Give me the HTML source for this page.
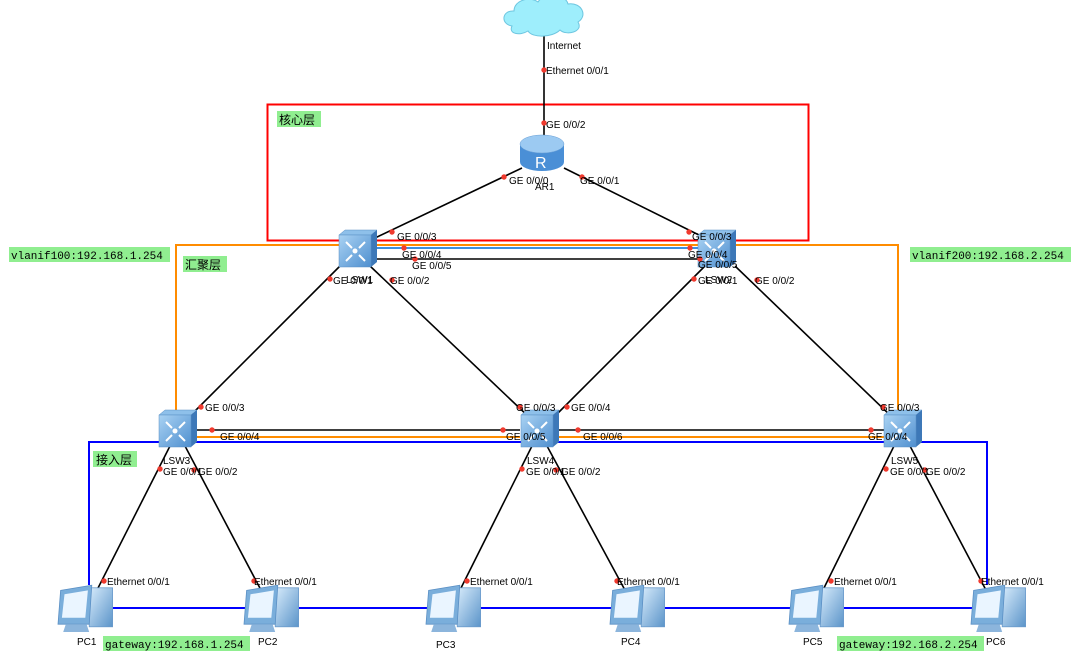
<!DOCTYPE html>
<html><head><meta charset="utf-8"><style>
body{margin:0;background:#fff;width:1092px;height:663px;overflow:hidden}
svg{display:block}
text{font-family:"Liberation Sans","Noto Sans CJK SC",sans-serif;font-size:10px;fill:#000}
.m{font-family:"Liberation Mono","Noto Sans CJK SC",monospace;font-size:11px}
</style></head><body>
<svg width="1092" height="663" viewBox="0 0 1092 663">
<defs>
<linearGradient id="sw" x1="0" y1="0" x2="1" y2="1"><stop offset="0" stop-color="#a9d2f3"/><stop offset="1" stop-color="#4f8fcf"/></linearGradient>
<linearGradient id="pc" x1="0" y1="0" x2="1" y2="1"><stop offset="0" stop-color="#d7ebfb"/><stop offset="1" stop-color="#5b94c9"/></linearGradient>
<g id="switch">
 <polygon points="-18,-13 -12,-18 20,-18 14,-13" fill="#8ec0ea" stroke="#5a8fc4" stroke-width="0.5"/>
 <polygon points="14,-13 20,-18 20,14 14,19" fill="#3d78b8"/>
 <rect x="-18" y="-13" width="32" height="32" fill="url(#sw)" stroke="#5a8fc4" stroke-width="0.5"/>
 <g stroke="#fff" stroke-width="2" fill="none"><path d="M-11,-6 l6,6 M8,-6 l-6,6 M-11,13 l6,-6 M8,13 l-6,-6"/></g>
 <circle cx="-2" cy="3" r="2.5" fill="#fff"/>
</g>
<g id="pcicon">
 <rect x="4" y="-14" width="18" height="30" fill="url(#pc)" stroke="#6a9acb" stroke-width="0.6"/>
 <polygon points="-18,-12 6,-16 4,14 -20,14" fill="#7aaedb" stroke="#5a8fc4" stroke-width="0.6"/>
 <polygon points="-15,-9 3,-12 1,9 -17,9" fill="#eaf5ff"/>
 <polygon points="-14,14 2,14 4,20 -16,20" fill="#8cb5dc"/>
</g>
</defs>

<rect x="267.5" y="104.5" width="541" height="136" fill="none" stroke="#f00" stroke-width="2"/>
<polyline points="176,415 176,245 898,245 898,412" fill="none" stroke="#ff8c00" stroke-width="2"/>
<polyline points="89,585 89,442 987,442 987,585" fill="none" stroke="#00f" stroke-width="2"/>

<g stroke="#000" stroke-width="1.6">
 <line x1="544" y1="33" x2="544" y2="138"/>
 <line x1="522" y1="168" x2="375" y2="238"/>
 <line x1="564" y1="168" x2="705" y2="238"/>
 <line x1="372" y1="259" x2="705" y2="259"/>
 <line x1="340" y1="266" x2="188" y2="418"/>
 <line x1="370" y1="266" x2="530" y2="418"/>
 <line x1="705" y1="266" x2="553" y2="418"/>
 <line x1="735" y1="266" x2="893" y2="418"/>
 <line x1="193" y1="430" x2="520" y2="430"/>
 <line x1="555" y1="430" x2="885" y2="430"/>
 <line x1="170" y1="446" x2="96" y2="592"/>
 <line x1="185" y1="446" x2="262" y2="592"/>
 <line x1="532" y1="446" x2="459" y2="592"/>
 <line x1="547" y1="446" x2="626" y2="592"/>
 <line x1="894" y1="446" x2="822" y2="592"/>
 <line x1="910" y1="446" x2="987" y2="592"/>
</g>
<line x1="372" y1="248" x2="705" y2="248" stroke="#3d8fe0" stroke-width="2"/>
<line x1="193" y1="437" x2="520" y2="437" stroke="#ff8c00" stroke-width="2"/>
<line x1="555" y1="437" x2="885" y2="437" stroke="#ff8c00" stroke-width="2"/>
<line x1="100" y1="608" x2="990" y2="608" stroke="#00f" stroke-width="2"/>

<g fill="#9eeefc" stroke="#6ec6e0" stroke-width="1">
 <path d="M512,26 C500,24 502,10 514,11 C514,0 530,-4 538,2 C544,-8 566,-6 568,4 C582,2 588,16 578,22 C584,32 566,36 560,30 C552,38 532,38 528,31 C520,36 508,34 512,26Z"/>
</g>
<text x="547" y="49">Internet</text>

<g>
 <path d="M520,144 v18 a22,9 0 0 0 44,0 v-18z" fill="#4a8fd6"/>
 <ellipse cx="542" cy="144" rx="22" ry="9" fill="#9ccaf2" stroke="#6aa0d6" stroke-width="0.5"/>
 <text x="535" y="168" style="font-size:16px;fill:#fff">R</text>
</g>
<text x="535" y="190">AR1</text>

<use href="#switch" x="357" y="248"/>
<use href="#switch" x="716" y="248"/>
<use href="#switch" x="177" y="428"/>
<use href="#switch" x="539" y="428"/>
<use href="#switch" x="902" y="428"/>
<text x="346" y="283">LSW1</text>
<text x="705" y="283">LSW2</text>
<text x="163" y="464">LSW3</text>
<text x="527" y="464">LSW4</text>
<text x="891" y="464">LSW5</text>

<use href="#pcicon" transform="translate(84,606) scale(1.3)"/>
<use href="#pcicon" transform="translate(270,606) scale(1.3)"/>
<use href="#pcicon" transform="translate(452,606) scale(1.3)"/>
<use href="#pcicon" transform="translate(636,606) scale(1.3)"/>
<use href="#pcicon" transform="translate(815,606) scale(1.3)"/>
<use href="#pcicon" transform="translate(997,606) scale(1.3)"/>
<text x="77" y="645">PC1</text>
<text x="258" y="645">PC2</text>
<text x="436" y="648">PC3</text>
<text x="621" y="645">PC4</text>
<text x="803" y="645">PC5</text>
<text x="986" y="645">PC6</text>

<g fill="#f03a2e">
 <circle cx="544" cy="70" r="2.7"/><circle cx="544" cy="123" r="2.7"/>
 <circle cx="504" cy="177" r="2.7"/><circle cx="582" cy="177" r="2.7"/>
 <circle cx="392" cy="232" r="2.7"/><circle cx="689" cy="232" r="2.7"/>
 <circle cx="404" cy="248" r="2.7"/><circle cx="690" cy="248" r="2.7"/>
 <circle cx="415" cy="259" r="2.7"/><circle cx="700" cy="259" r="2.7"/>
 <circle cx="330" cy="279" r="2.7"/><circle cx="392" cy="280" r="2.7"/>
 <circle cx="694" cy="279" r="2.7"/><circle cx="757" cy="280" r="2.7"/>
 <circle cx="201" cy="407" r="2.7"/><circle cx="520" cy="407" r="2.7"/>
 <circle cx="567" cy="407" r="2.7"/><circle cx="883" cy="407" r="2.7"/>
 <circle cx="212" cy="430" r="2.7"/><circle cx="503" cy="430" r="2.7"/>
 <circle cx="578" cy="430" r="2.7"/><circle cx="871" cy="430" r="2.7"/>
 <circle cx="160" cy="469" r="2.7"/><circle cx="194" cy="470" r="2.7"/>
 <circle cx="522" cy="469" r="2.7"/><circle cx="556" cy="470" r="2.7"/>
 <circle cx="886" cy="469" r="2.7"/><circle cx="925" cy="470" r="2.7"/>
 <circle cx="104" cy="581" r="2.7"/><circle cx="254" cy="581" r="2.7"/>
 <circle cx="467" cy="581" r="2.7"/><circle cx="617" cy="581" r="2.7"/>
 <circle cx="831" cy="581" r="2.7"/><circle cx="981" cy="581" r="2.7"/>
</g>

<g>
 <text x="546" y="74">Ethernet 0/0/1</text>
 <text x="546" y="128">GE 0/0/2</text>
 <text x="509" y="184">GE 0/0/0</text>
 <text x="580" y="184">GE 0/0/1</text>
 <text x="397" y="240">GE 0/0/3</text>
 <text x="692" y="240">GE 0/0/3</text>
 <text x="402" y="258">GE 0/0/4</text>
 <text x="688" y="258">GE 0/0/4</text>
 <text x="412" y="269">GE 0/0/5</text>
 <text x="698" y="268">GE 0/0/5</text>
 <text x="333" y="284">GE 0/0/1</text>
 <text x="390" y="284">GE 0/0/2</text>
 <text x="698" y="284">GE 0/0/1</text>
 <text x="755" y="284">GE 0/0/2</text>
 <text x="205" y="411">GE 0/0/3</text>
 <text x="516" y="411">GE 0/0/3</text>
 <text x="571" y="411">GE 0/0/4</text>
 <text x="880" y="411">GE 0/0/3</text>
 <text x="220" y="440">GE 0/0/4</text>
 <text x="506" y="440">GE 0/0/5</text>
 <text x="583" y="440">GE 0/0/6</text>
 <text x="868" y="440">GE 0/0/4</text>
 <text x="163" y="475">GE 0/0/1</text>
 <text x="198" y="475">GE 0/0/2</text>
 <text x="526" y="475">GE 0/0/1</text>
 <text x="561" y="475">GE 0/0/2</text>
 <text x="890" y="475">GE 0/0/1</text>
 <text x="926" y="475">GE 0/0/2</text>
 <text x="107" y="585">Ethernet 0/0/1</text>
 <text x="254" y="585">Ethernet 0/0/1</text>
 <text x="470" y="585">Ethernet 0/0/1</text>
 <text x="617" y="585">Ethernet 0/0/1</text>
 <text x="834" y="585">Ethernet 0/0/1</text>
 <text x="981" y="585">Ethernet 0/0/1</text>
</g>

<g fill="#90ee90">
 <rect x="277" y="111" width="44" height="16"/>
 <rect x="183" y="256" width="44" height="16"/>
 <rect x="93" y="451" width="44" height="16"/>
 <rect x="9" y="247" width="161" height="15"/>
 <rect x="910" y="247" width="161" height="15"/>
 <rect x="103" y="636" width="147" height="15"/>
 <rect x="837" y="636" width="147" height="15"/>
</g>
<text x="279" y="124" style="font-size:12px">核心层</text>
<text x="185" y="269" style="font-size:12px">汇聚层</text>
<text x="96" y="464" style="font-size:12px">接入层</text>
<text class="m" x="11" y="259">vlanif100:192.168.1.254</text>
<text class="m" x="912" y="259">vlanif200:192.168.2.254</text>
<text class="m" x="105" y="648">gateway:192.168.1.254</text>
<text class="m" x="839" y="648">gateway:192.168.2.254</text>
</svg>
</body></html>
